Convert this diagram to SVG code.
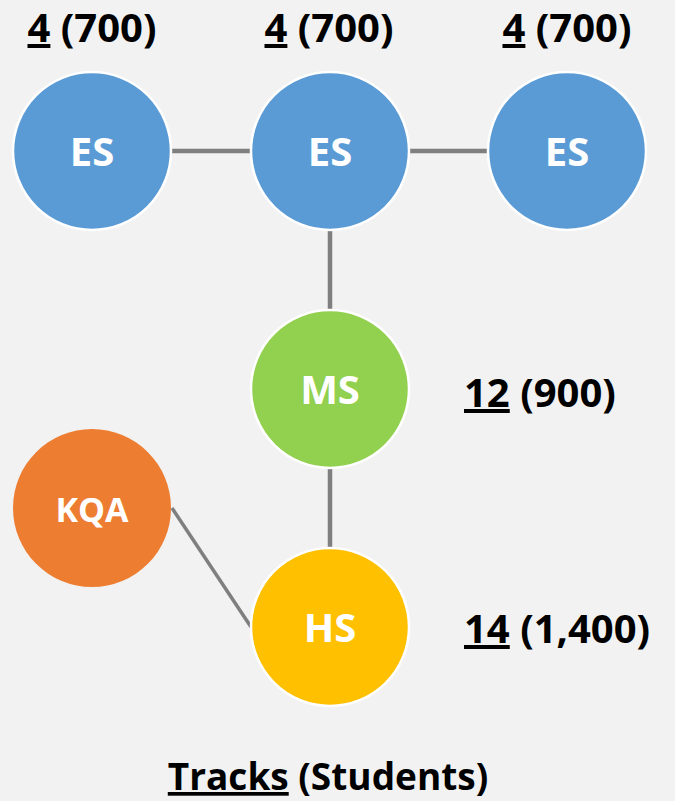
<svg xmlns="http://www.w3.org/2000/svg" width="675" height="801" viewBox="0 0 675 801">
<style>
.lbl{font-family:"Open Sans","Noto Sans",sans-serif;font-weight:bold;fill:#000;font-size:40px;}
.nt{font-family:"Open Sans","Noto Sans",sans-serif;font-weight:bold;fill:#fff;text-anchor:middle;font-size:40px;}
.u{text-decoration:underline;}
.con{stroke:#7f7f7f;stroke-width:4.5;fill:none;}
.ring{stroke:#fff;stroke-width:2.5;}
</style>
<rect width="675" height="801" fill="#f2f2f2"/>
<g id="connectors">
<line class="con" x1="171" y1="151" x2="252" y2="151"/>
<line class="con" x1="408" y1="151" x2="489" y2="151"/>
<line class="con" x1="330" y1="230" x2="330" y2="310"/>
<line class="con" x1="330" y1="468" x2="330" y2="548"/>
<line class="con" style="stroke-width:3.5" x1="172" y1="508" x2="251" y2="627"/>
</g>
<g id="es1">
<circle class="ring" cx="92" cy="151" r="79" fill="#5b9bd5"/>
<text class="nt" x="92" y="166">ES</text>
</g>
<g id="es2">
<circle class="ring" cx="330" cy="151" r="79" fill="#5b9bd5"/>
<text class="nt" x="330" y="166">ES</text>
</g>
<g id="es3">
<circle class="ring" cx="567" cy="151" r="79" fill="#5b9bd5"/>
<text class="nt" x="567" y="166">ES</text>
</g>
<g id="ms">
<circle class="ring" cx="330" cy="389" r="79" fill="#92d050"/>
<text class="nt" x="330" y="404">MS</text>
</g>
<g id="kqa">
<circle cx="92" cy="508" r="79" fill="#ed7d31"/>
<text class="nt" x="92" y="522" style="font-size:34px">KQA</text>
</g>
<g id="hs">
<circle class="ring" cx="330" cy="627" r="79" fill="#ffc000"/>
<text class="nt" x="330" y="642">HS</text>
</g>
<g id="labels">
<text class="lbl" x="92" y="42" text-anchor="middle"><tspan class="u">4</tspan> (700)</text>
<text class="lbl" x="329" y="42" text-anchor="middle"><tspan class="u">4</tspan> (700)</text>
<text class="lbl" x="567" y="42" text-anchor="middle"><tspan class="u">4</tspan> (700)</text>
<text class="lbl" x="464" y="407"><tspan class="u">12</tspan> (900)</text>
<text class="lbl" x="464" y="643"><tspan class="u">14</tspan> (1,400)</text>
<text class="lbl" x="328" y="790" style="font-size:37px" text-anchor="middle"><tspan class="u">Tracks</tspan> (Students)</text>
</g>
</svg>
